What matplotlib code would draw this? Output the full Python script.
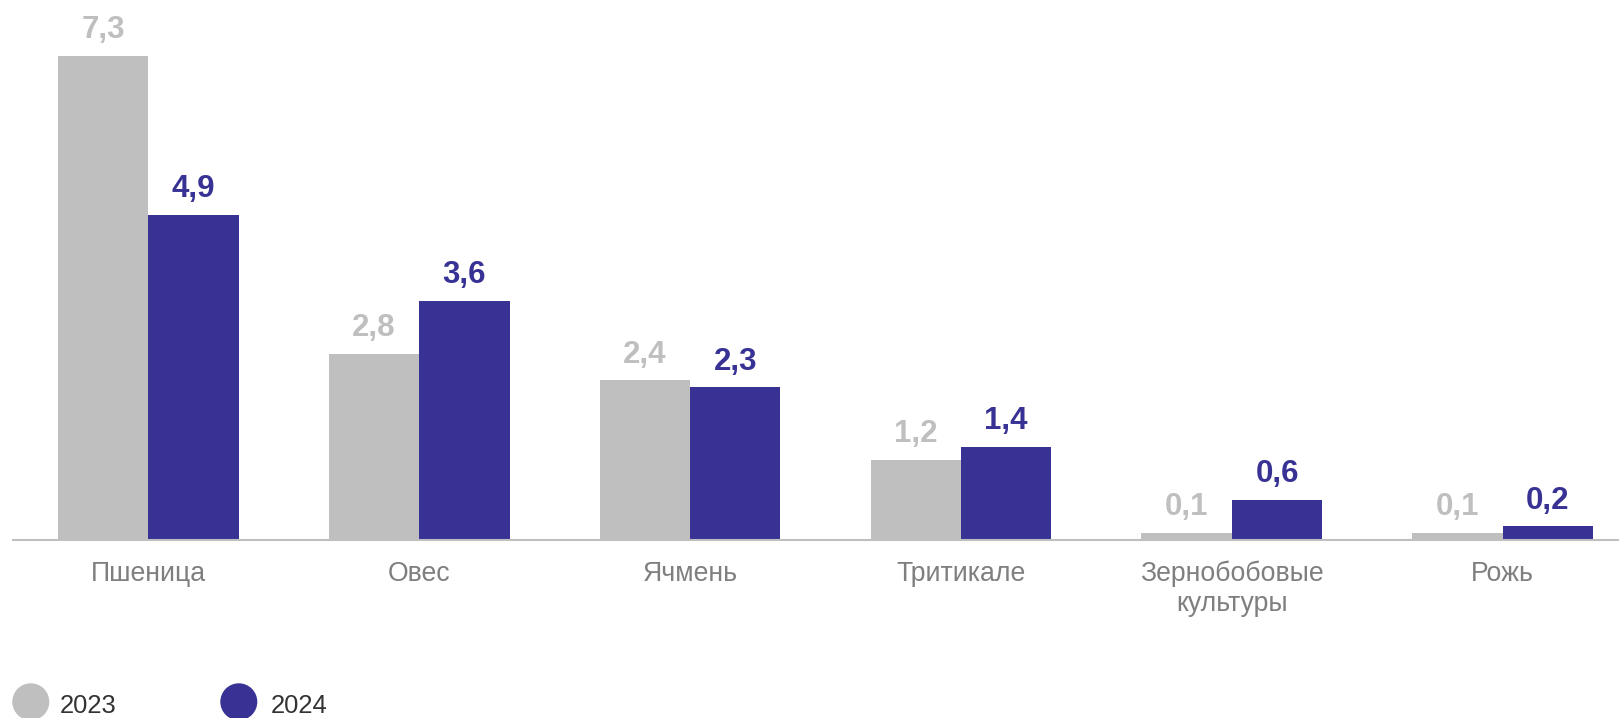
import matplotlib.pyplot as plt
import numpy as np

plt.rcParams["font.family"] = ["Liberation Sans", "DejaVu Sans"]

# ── Data ────────────────────────────────────────────────────
categories = ["Пшеница", "Овес", "Ячмень", "Тритикале",
              "Зернобобовые\nкультуры", "Рожь"]
values_2023 = [7.3, 2.8, 2.4, 1.2, 0.1, 0.1]
values_2024 = [4.9, 3.6, 2.3, 1.4, 0.6, 0.2]
series_labels = ["2023", "2024"]

GRAY = "#BFBFBF"
BLUE = "#373294"
CAT_GRAY = "#7F7F7F"
TEXT_DARK = "#333333"

W, H = 1619, 718
BASE_Y = 539.5      # baseline, px from top
PX_PER_UNIT = 66.3
fig = plt.figure(figsize=(W / 100, H / 100), dpi=100)

# plot area in pixels: x 13..1619, baseline at BASE_Y
ax = fig.add_axes([13 / W, (H - BASE_Y) / H, (W - 13) / W, BASE_Y / H])
x = np.arange(len(categories))
bw = 0.3337

ax.bar(x - bw / 2, values_2023, width=bw, color=GRAY, linewidth=0)
ax.bar(x + bw / 2, values_2024, width=bw, color=BLUE, linewidth=0)

def fmt(v):
    return f"{v:.1f}".replace(".", ",")

for xi, v in zip(x, values_2023):
    ax.annotate(fmt(v), (xi - bw / 2, v), xytext=(0, 12.6), textcoords="offset points",
                ha="center", va="baseline", fontsize=22.5, fontweight="bold", color=GRAY)
for xi, v in zip(x, values_2024):
    ax.annotate(fmt(v), (xi + bw / 2, v), xytext=(0, 12.6), textcoords="offset points",
                ha="center", va="baseline", fontsize=22.5, fontweight="bold", color=BLUE)

ax.set_xlim(-0.4995, 5.429)
ax.set_ylim(0, BASE_Y / PX_PER_UNIT)
for s in ["top", "right", "left"]:
    ax.spines[s].set_visible(False)
ax.spines["bottom"].set_color(GRAY)
ax.spines["bottom"].set_linewidth(1.5)
ax.set_yticks([])
ax.set_xticks(x)
ax.set_xticklabels(categories, fontsize=19.2, color=CAT_GRAY, linespacing=1.18)
ax.tick_params(axis="x", length=0, pad=15.5)
ax.patch.set_alpha(0)

# ── Legend (pixel overlay) ──────────────────────────────────
lg = fig.add_axes([0, 0, 1, 1], zorder=-1)
lg.set_xlim(0, W)
lg.set_ylim(H, 0)
lg.axis("off")
lg.scatter([30.8, 238.8], [701.8, 701.8], s=710, c=[GRAY, BLUE], linewidths=0)
lg.text(60, 713.3, series_labels[0], fontsize=18.4, color=TEXT_DARK, va="baseline")
lg.text(271, 713.3, series_labels[1], fontsize=18.4, color=TEXT_DARK, va="baseline")

fig.savefig("out.png", dpi=100)
